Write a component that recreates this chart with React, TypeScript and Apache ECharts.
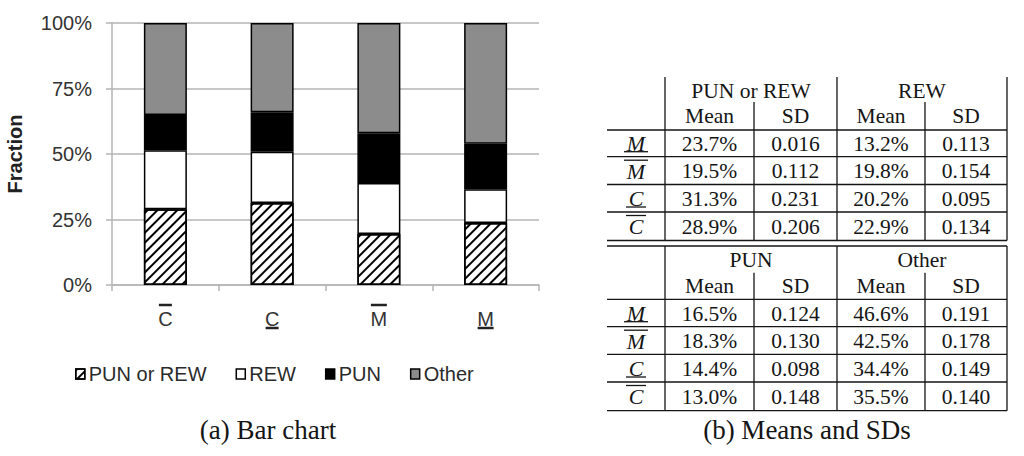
import React, { useEffect, useRef } from 'react';
import * as echarts from 'echarts';

// ---- bar chart data (fractions in %) ----
const categories = ['C-over', 'C-under', 'M-over', 'M-under'];
const categoryLetters = ['C', 'C', 'M', 'M'];
const categoryMarks = ['over', 'under', 'over', 'under'];
const seriesNames = ['PUN or REW', 'REW', 'PUN', 'Other'];
const punOrRewBar = [28.9, 31.3, 19.5, 23.7];
const rewBar = [22.5, 19.6, 19.4, 12.8];
const punBar = [13.5, 15.0, 19.0, 17.4];
const otherBar = [35.1, 34.1, 42.1, 46.1];
const yMin = 0;
const yMax = 100;
const yInterval = 25;

// ---- table data ----
const tableRowLetters = ['M', 'M', 'C', 'C'];
const tableRowMarks = ['under', 'over', 'under', 'over'];
const topGroups = ['PUN or REW', 'REW'];
const bottomGroups = ['PUN', 'Other'];
const subHeaders = ['Mean', 'SD'];
const punOrRewMean = ['23.7%', '19.5%', '31.3%', '28.9%'];
const punOrRewSD = ['0.016', '0.112', '0.231', '0.206'];
const rewMean = ['13.2%', '19.8%', '20.2%', '22.9%'];
const rewSD = ['0.113', '0.154', '0.095', '0.134'];
const punMean = ['16.5%', '18.3%', '14.4%', '13.0%'];
const punSD = ['0.124', '0.130', '0.098', '0.148'];
const otherMean = ['46.6%', '42.5%', '34.4%', '35.5%'];
const otherSD = ['0.191', '0.178', '0.149', '0.140'];

const captionA = '(a) Bar chart';
const captionB = '(b) Means and SDs';

const SANS = "'Liberation Sans', Arial, sans-serif";
const SERIF = "'Liberation Serif', 'Times New Roman', serif";

function buildTable(): any[] {
  const els: any[] = [];
  const ink = '#151515';
  const lw = 1.3;
  const colX = [607, 665, 754, 837, 925, 1007];
  const colC = [636, 709.5, 795.5, 881, 966];
  const line = (x1: number, y1: number, x2: number, y2: number) => ({
    type: 'line',
    shape: { x1, y1, x2, y2 },
    style: { stroke: ink, lineWidth: lw },
    silent: true,
  });
  const txt = (x: number, y: number, text: string, italic = false, size = 21.5) => ({
    type: 'text',
    x,
    y,
    silent: true,
    style: {
      text,
      fill: ink,
      fontFamily: SERIF,
      fontSize: size,
      fontStyle: italic ? 'italic' : 'normal',
      align: 'center',
      verticalAlign: 'middle',
    },
  });

  const drawBlock = (
    top: number,
    innerTop: number,
    groupY: number,
    subY: number,
    hLines: number[],
    groups: string[],
    cols: string[][]
  ) => {
    const bottom = hLines[hLines.length - 1];
    els.push(line(colX[1], top, colX[1], bottom));
    els.push(line(colX[3], top, colX[3], bottom));
    els.push(line(colX[5], top, colX[5], bottom));
    els.push(line(colX[2], innerTop, colX[2], bottom));
    els.push(line(colX[4], innerTop, colX[4], bottom));
    hLines.forEach((y) => els.push(line(colX[0], y, colX[5], y)));
    els.push(txt((colX[1] + colX[3]) / 2, groupY, groups[0]));
    els.push(txt((colX[3] + colX[5]) / 2, groupY, groups[1]));
    for (let g = 0; g < 2; g++) {
      els.push(txt(colC[1 + g * 2], subY, subHeaders[0]));
      els.push(txt(colC[2 + g * 2], subY, subHeaders[1]));
    }
    for (let r = 0; r < 4; r++) {
      const y0 = hLines[r];
      const y1 = hLines[r + 1];
      const cy = (y0 + y1) / 2 + 0.5;
      els.push(txt(colC[0], cy, tableRowLetters[r], true, 22));
      const w = tableRowLetters[r] === 'M' ? 24 : 20;
      const my = tableRowMarks[r] === 'under' ? y1 - 5 : y0 + 3.5;
      els.push({
        type: 'line',
        silent: true,
        shape: { x1: colC[0] - w / 2, y1: my, x2: colC[0] + w / 2, y2: my },
        style: { stroke: ink, lineWidth: 1.3 },
      });
      for (let c = 0; c < 4; c++) {
        els.push(txt(colC[1 + c], cy, cols[c][r]));
      }
    }
  };

  drawBlock(77, 102, 91, 116, [130, 156.7, 184.5, 212, 240.5], topGroups,
    [punOrRewMean, punOrRewSD, rewMean, rewSD]);
  drawBlock(246, 272.7, 259.5, 285.5, [299.3, 326.7, 354.3, 382, 410.7], bottomGroups,
    [punMean, punSD, otherMean, otherSD]);
  els.push(line(colX[0], 246, colX[5], 246));

  els.push({
    type: 'text', x: 807, y: 430, silent: true,
    style: { text: captionB, fill: ink, fontFamily: SERIF, fontSize: 27, align: 'center', verticalAlign: 'middle' },
  });
  els.push({
    type: 'text', x: 268, y: 430, silent: true,
    style: { text: captionA, fill: ink, fontFamily: SERIF, fontSize: 27, align: 'center', verticalAlign: 'middle' },
  });
  return els;
}

export default function App() {
  const ref = useRef<HTMLDivElement>(null);
  useEffect(() => {
    if (!ref.current) return;
    const chart = echarts.init(ref.current, undefined, { renderer: 'svg' });
    const border = { borderColor: '#000', borderWidth: 1.5 };
    const mk = (name: string, data: number[], itemStyle: any) => ({
      name,
      type: 'bar',
      stack: 'total',
      barWidth: 43,
      data,
      itemStyle: { ...border, ...itemStyle },
      emphasis: { disabled: true },
    });
    const option: any = {
      animation: false,
      backgroundColor: '#fff',
      grid: { left: 112, right: 485, top: 23, bottom: 171 },
      legend: {
        left: 70,
        top: 359,
        icon: 'rect',
        itemWidth: 9,
        itemHeight: 10,
        itemGap: 29,
        itemStyle: { borderColor: '#000', borderWidth: 1.5 },
        textStyle: { fontSize: 20, color: '#2a2a2a', fontFamily: SANS, padding: [0, 0, 0, -1] },
        data: seriesNames,
      },
      xAxis: {
        type: 'category',
        data: categories,
        axisLine: { lineStyle: { color: '#b5b5b5', width: 1.5 } },
        axisTick: { show: true, length: 6, lineStyle: { color: '#b5b5b5', width: 1.5 } },
        axisLabel: {
          margin: 14,
          interval: 0,
          formatter: (_v: string, idx: number) => {
            const l = categoryLetters[idx];
            const w = l === 'M' ? 'wm' : 'wc';
            return categoryMarks[idx] === 'over'
              ? `{${w}|}\n{t|${l}}\n{sp|}`
              : `{sp|}\n{t|${l}}\n{u${w}|}`;
          },
          rich: {
            t: { fontSize: 20, lineHeight: 16, color: '#333', fontFamily: SANS },
            wc: { width: 13, height: 2.5, lineHeight: 12, backgroundColor: '#222' },
            wm: { width: 16, height: 2.5, lineHeight: 12, backgroundColor: '#222' },
            uwc: { width: 13, height: 2.5, lineHeight: 2, backgroundColor: '#222' },
            uwm: { width: 16, height: 2.5, lineHeight: 2, backgroundColor: '#222' },
            sp: { width: 1, height: 2, lineHeight: 12 },
          },
        },
        splitLine: { show: false },
      },
      yAxis: {
        type: 'value',
        min: yMin,
        max: yMax,
        interval: yInterval,
        name: 'Fraction',
        nameLocation: 'middle',
        nameGap: 87,
        nameTextStyle: { fontSize: 20, fontWeight: 'bold', color: '#222', fontFamily: SANS },
        axisLine: { show: true, lineStyle: { color: '#b5b5b5', width: 1.5 } },
        axisTick: { show: true, length: 6, lineStyle: { color: '#b5b5b5', width: 1.5 } },
        axisLabel: { formatter: '{value}%', fontSize: 20, color: '#333', margin: 20, fontFamily: SANS },
        splitLine: { lineStyle: { color: '#b5b5b5', width: 1.5 } },
      },
      series: [
        mk(seriesNames[0], punOrRewBar, {
          color: '#fff',
          decal: {
            symbol: 'rect',
            symbolSize: 1,
            color: '#000',
            backgroundColor: '#fff',
            dashArrayX: [1, 0],
            dashArrayY: [2, 4.5],
            rotation: -Math.PI / 4,
          },
        }),
        mk(seriesNames[1], rewBar, { color: '#fff' }),
        mk(seriesNames[2], punBar, { color: '#000' }),
        mk(seriesNames[3], otherBar, { color: '#8c8c8c' }),
      ],
      graphic: buildTable(),
    };
    chart.setOption(option);
    return () => chart.dispose();
  }, []);
  return (
    <div
      ref={ref}
      style={{ position: 'fixed', left: 0, top: 0, width: 1024, height: 456, background: '#fff' }}
    />
  );
}
